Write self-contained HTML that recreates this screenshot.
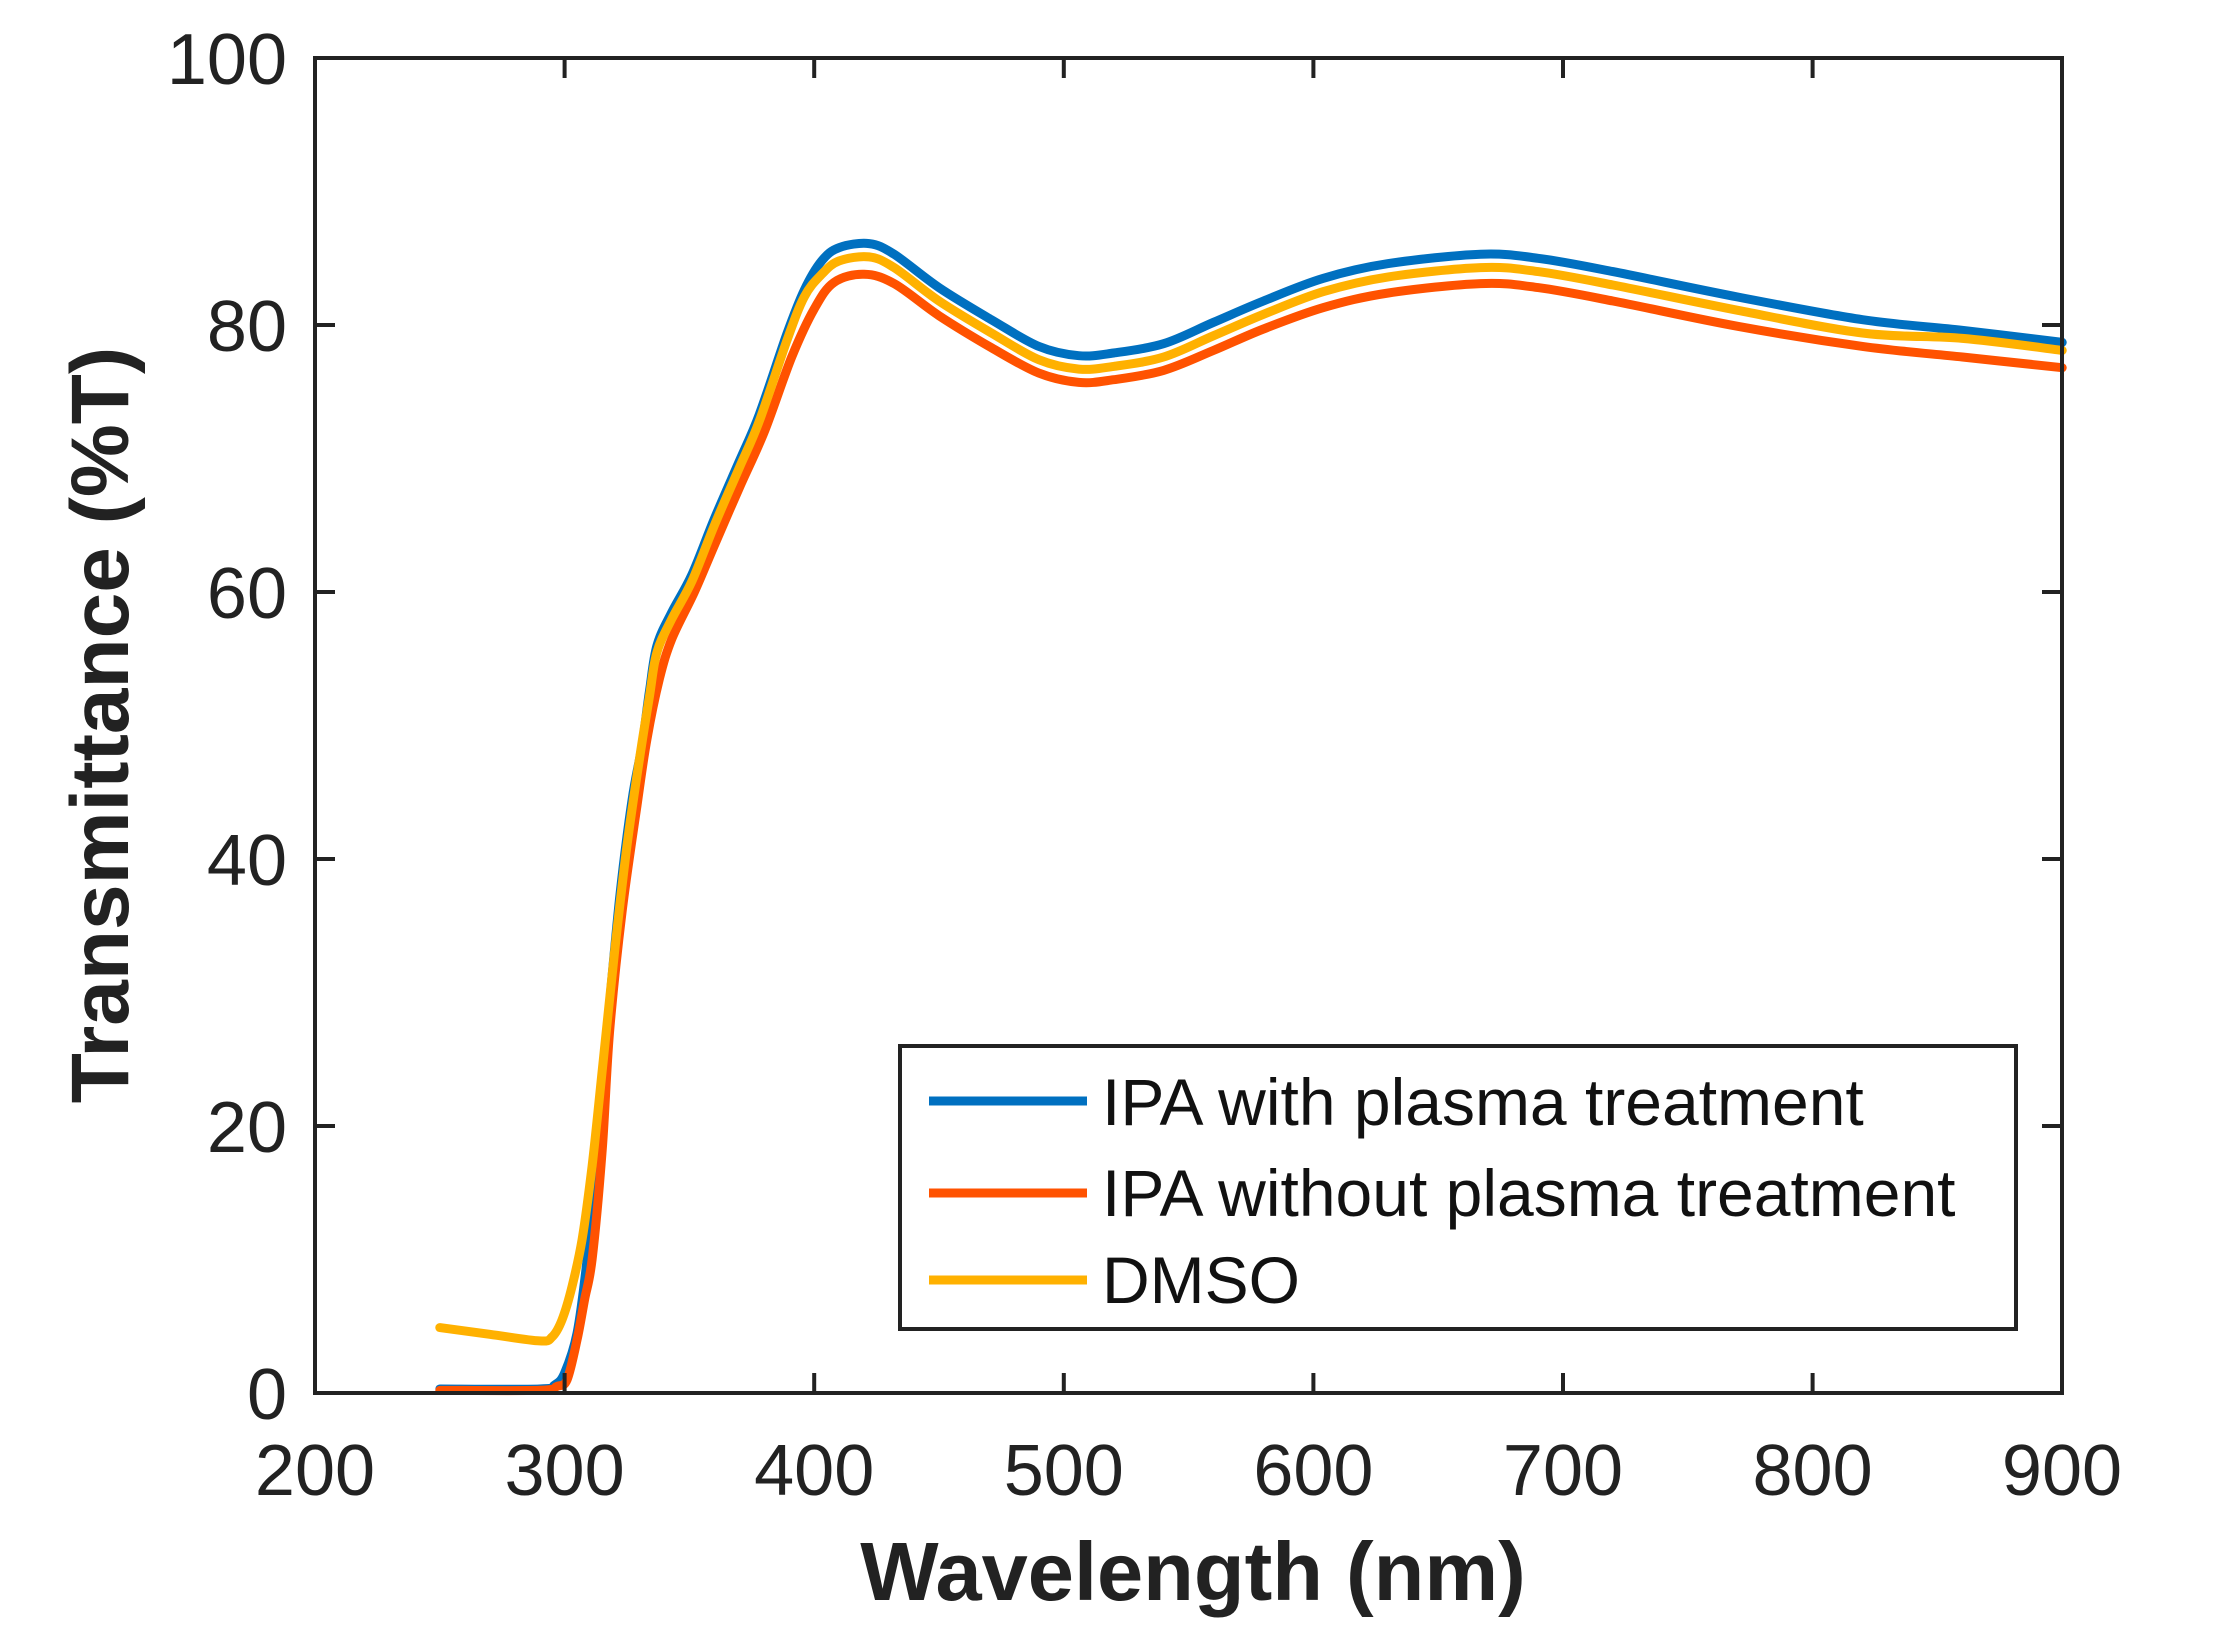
<!DOCTYPE html>
<html><head><meta charset="utf-8"><style>
html,body{margin:0;padding:0;background:#fff;}
svg{display:block;font-family:"Liberation Sans",Arial,sans-serif;}
</style></head><body>
<svg id="s" width="2213" height="1646" viewBox="0 0 2213 1646" xmlns="http://www.w3.org/2000/svg">
<rect width="2213" height="1646" fill="#fff"/>
<g id="curves" fill="none" stroke-width="9" stroke-linejoin="round" stroke-linecap="round"></g>
<g stroke="#222" stroke-width="4" fill="none">
<rect x="315" y="58" width="1747" height="1335"/>
<path d="M564.6,1393v-20M814.2,1393v-20M1063.8,1393v-20M1313.4,1393v-20M1563,1393v-20M1812.6,1393v-20
M564.6,58v20M814.2,58v20M1063.8,58v20M1313.4,58v20M1563,58v20M1812.6,58v20
M315,1126h20M315,859h20M315,592h20M315,325h20M2062,1126h-20M2062,859h-20M2062,592h-20M2062,325h-20"/>
</g>
<g font-size="72" fill="#222" text-anchor="end">
<text x="287" y="84">100</text><text x="287" y="351">80</text><text x="287" y="618">60</text>
<text x="287" y="885">40</text><text x="287" y="1152">20</text><text x="287" y="1419">0</text>
</g>
<g font-size="72" fill="#222" text-anchor="middle">
<text x="315" y="1495">200</text><text x="564.6" y="1495">300</text><text x="814.2" y="1495">400</text>
<text x="1063.8" y="1495">500</text><text x="1313.4" y="1495">600</text><text x="1563" y="1495">700</text>
<text x="1812.6" y="1495">800</text><text x="2062" y="1495">900</text>
</g>
<text x="1193" y="1600" font-size="83" font-weight="bold" fill="#222" text-anchor="middle">Wavelength (nm)</text>
<text transform="translate(128,725) rotate(-90)" font-size="82" font-weight="bold" fill="#222" text-anchor="middle">Transmittance (%T)</text>
<rect x="900" y="1046" width="1116" height="283" fill="#fff" stroke="#222" stroke-width="4"/>
<line x1="929" y1="1101" x2="1087" y2="1101" stroke="#0070c0" stroke-width="9"/>
<line x1="929" y1="1193" x2="1087" y2="1193" stroke="#ff5200" stroke-width="9"/>
<line x1="929" y1="1280" x2="1087" y2="1280" stroke="#ffb100" stroke-width="9"/>
<g font-size="66" fill="#111">
<text x="1102" y="1125">IPA with plasma treatment</text>
<text x="1102" y="1216">IPA without plasma treatment</text>
<text x="1102" y="1303">DMSO</text>
</g>
</svg>
<script>
var X=function(w){return 315+(w-200)*2.496;},Y=function(t){return 1393-t*13.35;};
var blue=[[250,0.3],[290,0.3],[296,0.6],[300,1.5],[305,4.5],[309,10],[313,18],[317,27],[322,37],[327,44.4],[331,48.5],[334,52.6],[337,56],[343,58.5],[351,61.3],[360,65.5],[370,69.8],[378,73.3],[389,79.3],[396,82.6],[403,84.8],[410,85.8],[422,86.1],[432,85.3],[450,82.8],[471,80.4],[490,78.4],[506,77.7],[520,77.9],[540,78.6],[560,80.2],[580,81.8],[604,83.5],[630,84.6],[667,85.3],[690,85.0],[720,84.0],[770,82.1],[820,80.4],[860,79.6],[900,78.7]];
var yel=[[250,4.9],[270,4.4],[290,3.9],[295,4.2],[299,5.5],[303,8],[307,11.5],[311,17],[315,24],[320,33],[325,41],[330,47.5],[334,52.2]];
blue.forEach(function(p){if(p[0]>=337){yel.push([p[0],p[1]-(p[0]<400?0.5:(p[0]>850?0.6:1.0))]);}});
var red=[[250,0.2],[290,0.2],[297,0.5],[301,1],[305,4],[308,7],[311,10],[315,18],[318,27],[323,36],[329,44],[333,49],[338,53.5],[343,56.5],[352,60],[360,63.5],[370,67.8],[380,72],[391,77.6],[400,81.2],[408,83.2],[420,83.8],[432,83.1],[450,80.7],[471,78.3],[490,76.4],[506,75.7],[520,75.9],[540,76.6],[560,78.1],[580,79.7],[604,81.3],[630,82.4],[667,83.1],[690,82.8],[720,81.8],[770,79.9],[820,78.4],[860,77.6],[900,76.8]];
function path(pts){var P=pts.map(function(p){return [X(p[0]),Y(p[1])];});var d="M"+P[0][0]+","+P[0][1];
for(var i=0;i<P.length-1;i++){var p0=P[i-1]||P[i],p1=P[i],p2=P[i+1],p3=P[i+2]||p2;
var c1=[p1[0]+(p2[0]-p0[0])/6,p1[1]+(p2[1]-p0[1])/6],c2=[p2[0]-(p3[0]-p1[0])/6,p2[1]-(p3[1]-p1[1])/6];
d+="C"+c1[0].toFixed(1)+","+c1[1].toFixed(1)+" "+c2[0].toFixed(1)+","+c2[1].toFixed(1)+" "+p2[0].toFixed(1)+","+p2[1].toFixed(1);}return d;}
var g=document.getElementById("curves"),ns="http://www.w3.org/2000/svg";
[[blue,"#0070c0"],[red,"#ff5200"],[yel,"#ffb100"]].forEach(function(s){var e=document.createElementNS(ns,"path");e.setAttribute("d",path(s[0]));e.setAttribute("stroke",s[1]);g.appendChild(e);});
</script>
</body></html>
